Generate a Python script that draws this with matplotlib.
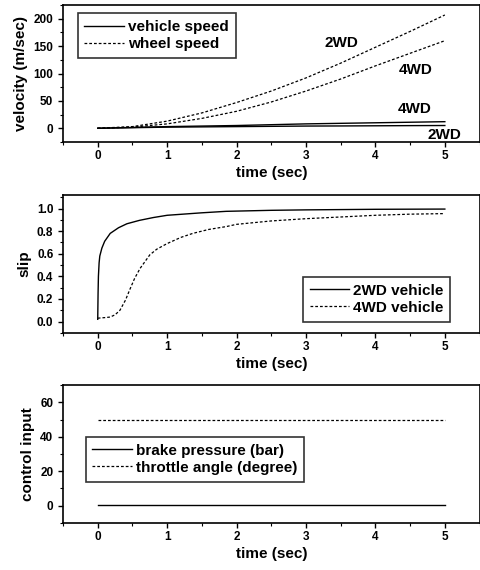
import numpy as np
import matplotlib
matplotlib.use('Agg')
import matplotlib.pyplot as plt
from matplotlib.ticker import MultipleLocator, FormatStrFormatter

plt.rcParams['font.family'] = ['Liberation Sans', 'DejaVu Sans']
plt.rcParams['font.weight'] = 'bold'
plt.rcParams['axes.labelweight'] = 'bold'

# panel 1: velocity
t_v = [0, 0.5, 1, 1.5, 2, 2.5, 3, 3.5, 4, 4.5, 5]
wheel_2wd = [0, 3, 13, 28, 47, 68, 92, 119, 148, 177, 207]
wheel_4wd = [0, 2, 8, 18, 31, 48, 68, 90, 114, 137, 160]
veh_2wd = [0, 1, 2, 2.5, 3, 3.5, 4, 4.2, 4.5, 4.8, 5]
veh_4wd = [0, 1.5, 3, 4, 5, 6.5, 8, 9, 10, 11, 12]

# panel 2: slip
t_s2 = [0, 0.005, 0.01, 0.02, 0.03, 0.06, 0.1, 0.18, 0.3, 0.42, 0.6, 0.8, 1.0, 1.5, 1.85, 2.5, 3, 4, 5]
slip_2wd = [0.02, 0.25, 0.4, 0.52, 0.58, 0.65, 0.71, 0.78, 0.83, 0.865, 0.895, 0.92, 0.94, 0.962, 0.975, 0.984, 0.988, 0.993, 0.995]
t_s4 = [0, 0.1, 0.18, 0.25, 0.32, 0.4, 0.46, 0.53, 0.61, 0.75, 0.85, 1.0, 1.2, 1.37, 1.6, 1.85, 2.0, 2.5, 3, 3.5, 4, 4.5, 5]
slip_4wd = [0.03, 0.035, 0.04, 0.06, 0.10, 0.19, 0.28, 0.38, 0.47, 0.59, 0.64, 0.69, 0.745, 0.78, 0.815, 0.84, 0.86, 0.89, 0.91, 0.925, 0.94, 0.95, 0.955]

# panel 3: control input
t_c = [0, 5]
brake = [0.5, 0.5]
throttle = [50, 50]

dash = (0, (2.2, 1.6))
fig = plt.figure(figsize=(4.81, 5.70), dpi=100)

leg_kw = dict(fontsize=11, frameon=True, fancybox=False, edgecolor='k',
              handlelength=2.6, handletextpad=0.25, borderpad=0.45,
              labelspacing=0.2, borderaxespad=0)


def style(ax, ylim, ymaj, ymin):
    ax.set_xlim(-0.5, 5.5)
    ax.set_ylim(*ylim)
    ax.xaxis.set_major_locator(MultipleLocator(1))
    ax.xaxis.set_minor_locator(MultipleLocator(0.5))
    ax.yaxis.set_major_locator(MultipleLocator(ymaj))
    ax.yaxis.set_minor_locator(MultipleLocator(ymin))
    ax.tick_params(which='major', direction='out', length=3.5, width=1, labelsize=8.5)
    ax.tick_params(axis='x', which='major', pad=2.5)
    ax.tick_params(which='minor', direction='out', length=2, width=0.8)
    for s in ax.spines.values():
        s.set_linewidth(1.2)
    ax.set_xlabel('time (sec)', fontsize=11, labelpad=3)


ax1 = fig.add_axes([0.131, 0.751, 0.866, 0.240])
ax1.plot(t_v, veh_2wd, 'k-', lw=1.0, label='vehicle speed')
ax1.plot(t_v, veh_4wd, 'k-', lw=1.0)
ax1.plot(t_v, wheel_2wd, color='k', ls=dash, lw=0.9, label='wheel speed')
ax1.plot(t_v, wheel_4wd, color='k', ls=dash, lw=0.9)
ax1.text(3.51, 155, '2WD', fontsize=11, ha='center', va='center')
ax1.text(4.58, 106, '4WD', fontsize=11, ha='center', va='center')
ax1.text(4.56, 36, '4WD', fontsize=11, ha='center', va='center')
ax1.text(4.99, -13, '2WD', fontsize=11, ha='center', va='center')
style(ax1, (-25, 225), 50, 25)
ax1.set_ylabel('velocity (m/sec)', fontsize=11)
leg = ax1.legend(loc='upper left', bbox_to_anchor=(0.035, 0.94), **leg_kw)
leg.get_frame().set_linewidth(1.2)

ax2 = fig.add_axes([0.131, 0.416, 0.866, 0.242])
ax2.plot(t_s2, slip_2wd, 'k-', lw=1.0, label='2WD vehicle')
ax2.plot(t_s4, slip_4wd, color='k', ls=dash, lw=0.9, label='4WD vehicle')
style(ax2, (-0.1, 1.12), 0.2, 0.1)
ax2.yaxis.set_major_formatter(FormatStrFormatter('%.1f'))
ax2.set_ylabel('slip', fontsize=11)
leg = ax2.legend(loc='lower right', bbox_to_anchor=(0.93, 0.082), **leg_kw)
leg.get_frame().set_linewidth(1.2)

ax3 = fig.add_axes([0.131, 0.0825, 0.866, 0.242])
ax3.plot(t_c, brake, 'k-', lw=1.0, label='brake pressure (bar)')
ax3.plot(t_c, throttle, color='k', ls=dash, lw=0.9, label='throttle angle (degree)')
style(ax3, (-10, 70), 20, 10)
ax3.set_ylabel('control input', fontsize=11)
leg = ax3.legend(loc='upper left', bbox_to_anchor=(0.054, 0.625), **leg_kw)
leg.get_frame().set_linewidth(1.2)

fig.savefig('out.png', dpi=100)
